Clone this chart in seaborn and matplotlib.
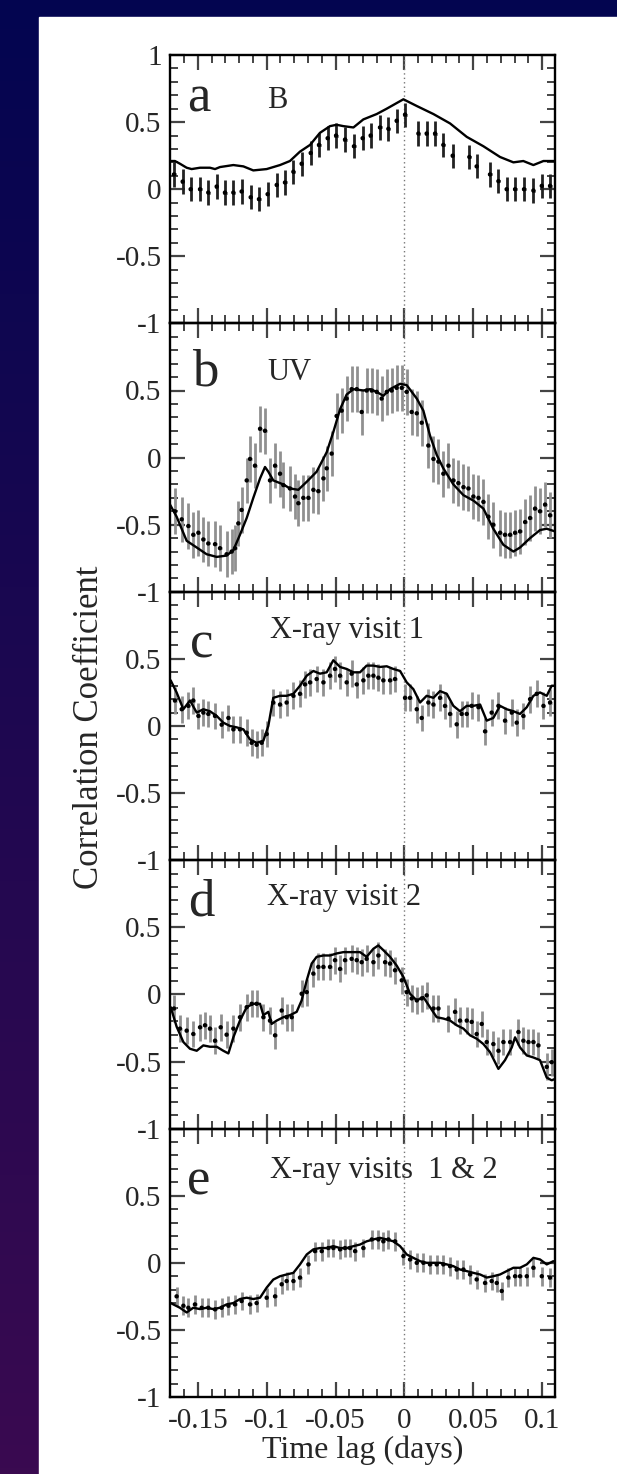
import numpy as np
import pandas as pd
import matplotlib
matplotlib.use("Agg")
import matplotlib.pyplot as plt
from matplotlib.ticker import FixedLocator, MultipleLocator
from matplotlib.patches import Rectangle
import seaborn as sns

# ---------------- data ----------------
panel_letters = ["a", "b", "c", "d", "e"]
panel_titles = ["B", "UV", "X-ray visit 1", "X-ray visit 2", "X-ray visits  1 & 2"]
point_errors = [0.09, 0.17, 0.10, 0.10, 0.07]

a_line_x = [-0.1697, -0.1666, -0.1630, -0.1581, -0.1545, -0.1484, -0.1412, -0.1375, -0.1339, -0.1242, -0.1169, -0.1097, -0.1000, -0.0903, -0.0831, -0.0758, -0.0685, -0.0613, -0.0540, -0.0492, -0.0443, -0.0370, -0.0298, -0.0201, -0.0128, -0.0007, 0.0090, 0.0211, 0.0332, 0.0453, 0.0574, 0.0695, 0.0792, 0.0864, 0.0937, 0.1010, 0.1094]
a_line_y = [0.21, 0.21, 0.19, 0.16, 0.15, 0.16, 0.16, 0.15, 0.165, 0.18, 0.17, 0.14, 0.15, 0.18, 0.21, 0.28, 0.33, 0.42, 0.47, 0.48, 0.47, 0.46, 0.52, 0.56, 0.60, 0.67, 0.62, 0.56, 0.49, 0.39, 0.32, 0.24, 0.20, 0.21, 0.18, 0.21, 0.21]
a_pts_x = [-0.1673, -0.1610, -0.1552, -0.1484, -0.1424, -0.1363, -0.1303, -0.1242, -0.1182, -0.1116, -0.1056, -0.0993, -0.0927, -0.0867, -0.0806, -0.0746, -0.0680, -0.0620, -0.0557, -0.0496, -0.0431, -0.0366, -0.0303, -0.0245, -0.0177, -0.0116, -0.0056, 0.0005, 0.0102, 0.0162, 0.0223, 0.0283, 0.0351, 0.0472, 0.0525, 0.0622, 0.0683, 0.0743, 0.0804, 0.0869, 0.0937, 0.0998, 0.1058]
a_pts_y = [0.11, 0.057, 0.0, 0.0, -0.025, 0.02, -0.025, -0.025, -0.017, -0.06, -0.074, -0.037, 0.032, 0.05, 0.13, 0.19, 0.27, 0.33, 0.38, 0.40, 0.37, 0.32, 0.38, 0.40, 0.46, 0.45, 0.51, 0.556, 0.415, 0.415, 0.415, 0.33, 0.25, 0.24, 0.17, 0.11, 0.06, 0.0, 0.0, 0.0, -0.01, 0.025, 0.025]

b_line_x = [-0.1702, -0.1654, -0.1581, -0.1508, -0.1436, -0.1363, -0.1291, -0.1242, -0.1194, -0.1145, -0.1097, -0.1048, -0.1012, -0.0988, -0.0952, -0.0879, -0.0831, -0.0770, -0.0709, -0.0637, -0.0564, -0.0516, -0.0467, -0.0419, -0.0370, -0.0298, -0.0249, -0.0201, -0.0153, -0.0104, -0.0031, 0.0017, 0.0090, 0.0138, 0.0186, 0.0235, 0.0283, 0.0356, 0.0429, 0.0501, 0.0574, 0.0646, 0.0719, 0.0792, 0.0840, 0.0913, 0.0985, 0.1034, 0.1094]
b_line_y = [-0.35, -0.44, -0.62, -0.67, -0.72, -0.74, -0.73, -0.69, -0.575, -0.45, -0.30, -0.155, -0.07, -0.105, -0.17, -0.20, -0.23, -0.24, -0.18, -0.105, 0.04, 0.19, 0.36, 0.47, 0.51, 0.50, 0.51, 0.49, 0.46, 0.51, 0.55, 0.54, 0.44, 0.35, 0.165, 0.02, -0.08, -0.20, -0.28, -0.32, -0.38, -0.53, -0.65, -0.70, -0.67, -0.60, -0.54, -0.53, -0.55]
b_pts_x = [-0.1666, -0.1617, -0.1569, -0.1533, -0.1496, -0.1460, -0.1424, -0.1375, -0.1339, -0.1291, -0.1254, -0.1230, -0.1206, -0.1182, -0.1145, -0.1121, -0.1085, -0.1048, -0.1012, -0.0976, -0.0939, -0.0903, -0.0879, -0.0831, -0.0794, -0.0770, -0.0734, -0.0697, -0.0661, -0.0625, -0.0588, -0.0564, -0.0528, -0.0492, -0.0455, -0.0419, -0.0383, -0.0346, -0.0310, -0.0274, -0.0237, -0.0201, -0.0165, -0.0128, -0.0092, -0.0056, -0.0019, 0.0017, 0.0053, 0.0090, 0.0126, 0.0174, 0.0211, 0.0247, 0.0283, 0.0320, 0.0356, 0.0392, 0.0429, 0.0465, 0.0501, 0.0538, 0.0574, 0.0610, 0.0646, 0.0695, 0.0731, 0.0768, 0.0804, 0.0840, 0.0877, 0.0913, 0.0949, 0.0985, 0.1022, 0.1058]
b_pts_y = [-0.40, -0.46, -0.51, -0.575, -0.56, -0.61, -0.64, -0.645, -0.675, -0.72, -0.70, -0.675, -0.49, -0.39, -0.17, -0.01, -0.06, 0.215, 0.20, -0.17, -0.06, -0.12, -0.205, -0.23, -0.29, -0.34, -0.30, -0.30, -0.24, -0.25, -0.155, -0.08, 0.03, 0.31, 0.35, 0.44, 0.51, 0.51, 0.34, 0.50, 0.50, 0.49, 0.44, 0.49, 0.50, 0.52, 0.52, 0.49, 0.34, 0.33, 0.26, 0.09, -0.01, -0.03, -0.12, -0.06, -0.17, -0.19, -0.22, -0.23, -0.29, -0.30, -0.33, -0.44, -0.50, -0.56, -0.575, -0.575, -0.56, -0.55, -0.48, -0.45, -0.38, -0.40, -0.35, -0.43]

c_line_x = [-0.1697, -0.1654, -0.1605, -0.1557, -0.1508, -0.1460, -0.1412, -0.1363, -0.1315, -0.1266, -0.1218, -0.1169, -0.1121, -0.1073, -0.1024, -0.0988, -0.0952, -0.0903, -0.0855, -0.0806, -0.0758, -0.0709, -0.0661, -0.0613, -0.0564, -0.0516, -0.0467, -0.0419, -0.0370, -0.0322, -0.0274, -0.0225, -0.0177, -0.0128, -0.0080, -0.0031, 0.0017, 0.0065, 0.0114, 0.0162, 0.0211, 0.0259, 0.0308, 0.0356, 0.0404, 0.0453, 0.0501, 0.0550, 0.0598, 0.0646, 0.0695, 0.0743, 0.0792, 0.0840, 0.0889, 0.0937, 0.0985, 0.1034, 0.1070, 0.1094]
c_line_y = [0.34, 0.25, 0.125, 0.19, 0.10, 0.125, 0.11, 0.075, 0.025, 0.0, -0.01, -0.025, -0.10, -0.125, -0.11, 0.0, 0.21, 0.225, 0.225, 0.24, 0.30, 0.375, 0.41, 0.39, 0.40, 0.49, 0.44, 0.425, 0.40, 0.40, 0.45, 0.45, 0.44, 0.445, 0.425, 0.41, 0.325, 0.275, 0.175, 0.225, 0.21, 0.26, 0.24, 0.15, 0.11, 0.15, 0.15, 0.16, 0.04, 0.06, 0.15, 0.125, 0.11, 0.09, 0.14, 0.225, 0.25, 0.225, 0.30, 0.30]
c_pts_x = [-0.1666, -0.1617, -0.1569, -0.1533, -0.1496, -0.1460, -0.1424, -0.1375, -0.1327, -0.1278, -0.1242, -0.1194, -0.1145, -0.1109, -0.1073, -0.1036, -0.1000, -0.0952, -0.0903, -0.0855, -0.0806, -0.0758, -0.0722, -0.0685, -0.0637, -0.0588, -0.0540, -0.0504, -0.0467, -0.0419, -0.0383, -0.0346, -0.0298, -0.0262, -0.0225, -0.0189, -0.0153, -0.0104, -0.0068, 0.0005, 0.0041, 0.0090, 0.0126, 0.0174, 0.0211, 0.0259, 0.0295, 0.0332, 0.0380, 0.0416, 0.0453, 0.0489, 0.0538, 0.0586, 0.0634, 0.0683, 0.0731, 0.0780, 0.0816, 0.0864, 0.0913, 0.0961, 0.1010, 0.1058]
c_pts_y = [0.19, 0.125, 0.15, 0.19, 0.075, 0.10, 0.09, 0.075, 0.01, 0.06, -0.025, -0.025, -0.05, -0.125, -0.14, -0.125, -0.06, 0.175, 0.16, 0.175, 0.225, 0.24, 0.31, 0.325, 0.35, 0.325, 0.375, 0.425, 0.375, 0.325, 0.39, 0.31, 0.34, 0.375, 0.375, 0.36, 0.34, 0.34, 0.35, 0.21, 0.21, 0.125, 0.06, 0.175, 0.16, 0.21, 0.15, 0.09, 0.0125, 0.09, 0.09, 0.15, 0.14, -0.04, 0.10, 0.15, 0.04, 0.10, 0.025, 0.075, 0.20, 0.24, 0.15, 0.175]

d_line_x = [-0.1697, -0.1654, -0.1605, -0.1557, -0.1508, -0.1460, -0.1412, -0.1363, -0.1315, -0.1278, -0.1242, -0.1194, -0.1145, -0.1097, -0.1048, -0.1024, -0.0988, -0.0964, -0.0927, -0.0879, -0.0831, -0.0782, -0.0746, -0.0709, -0.0673, -0.0637, -0.0588, -0.0540, -0.0492, -0.0443, -0.0370, -0.0322, -0.0274, -0.0225, -0.0189, -0.0153, -0.0104, -0.0056, -0.0007, 0.0041, 0.0090, 0.0138, 0.0186, 0.0235, 0.0283, 0.0332, 0.0380, 0.0429, 0.0477, 0.0525, 0.0574, 0.0622, 0.0683, 0.0731, 0.0780, 0.0804, 0.0840, 0.0889, 0.0937, 0.0985, 0.1034, 0.1070, 0.1094]
d_line_y = [-0.095, -0.24, -0.355, -0.405, -0.42, -0.38, -0.39, -0.39, -0.42, -0.44, -0.32, -0.195, -0.095, -0.07, -0.07, -0.155, -0.13, -0.22, -0.195, -0.17, -0.155, -0.13, -0.045, 0.105, 0.23, 0.28, 0.29, 0.29, 0.305, 0.315, 0.315, 0.315, 0.28, 0.34, 0.365, 0.33, 0.28, 0.215, 0.13, 0.005, -0.045, -0.02, -0.095, -0.17, -0.18, -0.195, -0.23, -0.255, -0.305, -0.33, -0.37, -0.43, -0.555, -0.49, -0.395, -0.32, -0.395, -0.455, -0.47, -0.49, -0.62, -0.64, -0.63]
d_pts_x = [-0.1673, -0.1630, -0.1581, -0.1533, -0.1484, -0.1448, -0.1412, -0.1375, -0.1334, -0.1291, -0.1242, -0.1194, -0.1145, -0.1109, -0.1073, -0.1024, -0.0976, -0.0939, -0.0891, -0.0855, -0.0818, -0.0746, -0.0709, -0.0661, -0.0625, -0.0588, -0.0540, -0.0504, -0.0467, -0.0431, -0.0383, -0.0346, -0.0310, -0.0274, -0.0225, -0.0189, -0.0140, -0.0104, -0.0068, -0.0019, 0.0017, 0.0053, 0.0090, 0.0126, 0.0162, 0.0211, 0.0247, 0.0320, 0.0368, 0.0404, 0.0453, 0.0489, 0.0525, 0.0562, 0.0598, 0.0646, 0.0683, 0.0719, 0.0768, 0.0828, 0.0864, 0.0901, 0.0937, 0.0973, 0.1034, 0.1070]
d_pts_y = [-0.105, -0.255, -0.27, -0.295, -0.245, -0.23, -0.255, -0.345, -0.245, -0.30, -0.255, -0.17, -0.095, -0.07, -0.07, -0.17, -0.195, -0.305, -0.12, -0.17, -0.17, 0.005, 0.017, 0.155, 0.205, 0.205, 0.205, 0.255, 0.19, 0.255, 0.265, 0.255, 0.24, 0.265, 0.24, 0.29, 0.24, 0.23, 0.18, 0.105, 0.017, -0.03, -0.045, -0.03, -0.007, -0.105, -0.105, -0.18, -0.13, -0.195, -0.195, -0.205, -0.295, -0.22, -0.355, -0.37, -0.42, -0.355, -0.355, -0.28, -0.345, -0.355, -0.355, -0.38, -0.54, -0.505]

e_line_x = [-0.1697, -0.1630, -0.1581, -0.1533, -0.1484, -0.1436, -0.1387, -0.1339, -0.1291, -0.1242, -0.1194, -0.1145, -0.1097, -0.1048, -0.1000, -0.0952, -0.0903, -0.0855, -0.0806, -0.0758, -0.0709, -0.0661, -0.0613, -0.0564, -0.0516, -0.0467, -0.0419, -0.0370, -0.0322, -0.0274, -0.0225, -0.0177, -0.0128, -0.0080, -0.0031, 0.0017, 0.0065, 0.0114, 0.0162, 0.0211, 0.0259, 0.0308, 0.0356, 0.0404, 0.0453, 0.0501, 0.0550, 0.0598, 0.0646, 0.0695, 0.0743, 0.0792, 0.0840, 0.0889, 0.0937, 0.0985, 0.1034, 0.1082]
e_line_y = [-0.30, -0.335, -0.37, -0.335, -0.345, -0.335, -0.345, -0.335, -0.31, -0.30, -0.27, -0.26, -0.27, -0.26, -0.185, -0.125, -0.10, -0.087, -0.075, -0.012, 0.062, 0.10, 0.11, 0.11, 0.124, 0.11, 0.11, 0.124, 0.136, 0.16, 0.174, 0.186, 0.174, 0.16, 0.124, 0.062, 0.037, 0.012, 0.0, 0.0, 0.0, -0.012, -0.025, -0.05, -0.062, -0.075, -0.087, -0.11, -0.10, -0.087, -0.062, -0.037, -0.037, -0.012, 0.037, 0.025, -0.012, 0.012]
e_pts_x = [-0.1654, -0.1605, -0.1569, -0.1521, -0.1472, -0.1424, -0.1375, -0.1327, -0.1278, -0.1230, -0.1182, -0.1121, -0.1073, -0.1000, -0.0939, -0.0891, -0.0855, -0.0806, -0.0758, -0.0697, -0.0649, -0.0600, -0.0552, -0.0516, -0.0467, -0.0431, -0.0395, -0.0358, -0.0298, -0.0237, -0.0189, -0.0153, -0.0116, -0.0068, -0.0007, 0.0041, 0.0090, 0.0138, 0.0186, 0.0235, 0.0283, 0.0332, 0.0380, 0.0429, 0.0477, 0.0525, 0.0586, 0.0634, 0.0671, 0.0707, 0.0755, 0.0804, 0.0840, 0.0889, 0.0937, 0.0998, 0.1058]
e_pts_y = [-0.25, -0.32, -0.335, -0.31, -0.335, -0.335, -0.347, -0.335, -0.32, -0.31, -0.285, -0.31, -0.30, -0.26, -0.25, -0.16, -0.136, -0.136, -0.11, -0.012, 0.087, 0.087, 0.11, 0.11, 0.10, 0.11, 0.11, 0.087, 0.11, 0.174, 0.174, 0.16, 0.174, 0.16, 0.05, 0.025, 0.0, 0.0, -0.012, -0.012, -0.012, -0.025, -0.05, -0.05, -0.087, -0.124, -0.15, -0.136, -0.15, -0.21, -0.11, -0.10, -0.10, -0.10, -0.037, -0.10, -0.11]

x_ticks = [-0.15, -0.1, -0.05, 0, 0.05, 0.1]
x_tick_labels = ["-0.15", "-0.1", "-0.05", "0", "0.05", "0.1"]
y_ticks = [-1, -0.5, 0, 0.5, 1]
y_tick_labels = ["-1", "-0.5", "0", "0.5", "1"]

lines_x = [a_line_x, b_line_x, c_line_x, d_line_x, e_line_x]
lines_y = [a_line_y, b_line_y, c_line_y, d_line_y, e_line_y]
pts_x = [a_pts_x, b_pts_x, c_pts_x, d_pts_x, e_pts_x]
pts_y = [a_pts_y, b_pts_y, c_pts_y, d_pts_y, e_pts_y]

# ---------------- style ----------------
sns.set_theme(style="ticks")
plt.rcParams["font.family"] = ["Liberation Serif", "DejaVu Serif"]
plt.rcParams["axes.unicode_minus"] = False

W, H = 617, 1474
fig = plt.figure(figsize=(W / 100, H / 100), dpi=100)

# background gradient + white sheet
bg = fig.add_axes([0, 0, 1, 1], zorder=-10)
grad = np.linspace(0, 1, 256)[:, None]
top_c = np.array([3, 5, 80]) / 255.0
bot_c = np.array([58, 10, 80]) / 255.0
img = top_c[None, None, :] * (1 - grad[:, :, None]) + bot_c[None, None, :] * grad[:, :, None]
bg.imshow(img, aspect="auto", extent=[0, 1, 0, 1], origin="upper")
bg.add_patch(Rectangle((39 / W, 0), 1, 1 - 17 / H, color="white", transform=bg.transAxes))
bg.set_xlim(0, 1); bg.set_ylim(0, 1)
bg.axis("off")

left, right = 170 / W, 555 / W
top, bottom = 1 - 55 / H, 1 - 1397 / H
axes = fig.subplots(5, 1, sharex=True)
fig.subplots_adjust(left=left, right=right, top=top, bottom=bottom, hspace=0)

letter_pos = [(0.044, 0.791), (0.057, 0.770), (0.052, 0.757), (0.047, 0.795), (0.044, 0.753)]
title_pos = [(0.252, 0.803), (0.252, 0.789), (0.260, 0.828), (0.252, 0.832), (0.260, 0.815)]
err_colors = ["#222222", "#909090", "#909090", "#909090", "#909090"]

for i, ax in enumerate(axes):
    ax.set_facecolor("none")
    dfl = pd.DataFrame({"lag": lines_x[i], "r": lines_y[i]})
    dfp = pd.DataFrame({"lag": pts_x[i], "r": pts_y[i]})
    ax.axvline(0, color="#777777", lw=1.0, ls=(0, (1, 2.2)), zorder=1)
    ax.errorbar(dfp["lag"], dfp["r"], yerr=point_errors[i], xerr=0.0012,
                fmt="none", ecolor=err_colors[i], elinewidth=2.0, capsize=0, zorder=2)
    sns.scatterplot(data=dfp, x="lag", y="r", ax=ax, s=10, color="black",
                    edgecolor="none", zorder=4, legend=False)
    sns.lineplot(data=dfl, x="lag", y="r", ax=ax, color="black", lw=1.7,
                 zorder=3, legend=False, sort=False)
    ax.set_xlim(-0.1702, 0.1094)
    ax.set_ylim(-1, 1)
    ax.set_xlabel("")
    ax.set_ylabel("")
    ax.xaxis.set_major_locator(FixedLocator(x_ticks))
    ax.xaxis.set_minor_locator(MultipleLocator(0.01))
    ax.yaxis.set_major_locator(FixedLocator(y_ticks))
    ax.yaxis.set_minor_locator(MultipleLocator(0.1))
    labels = list(y_tick_labels) if i == 0 else y_tick_labels[:-1] + [""]
    ax.set_yticklabels(labels)
    ax.tick_params(which="major", direction="in", top=True, right=True,
                   length=11, width=1.6, color="#444444", labelsize=21, pad=6)
    ax.tick_params(which="minor", direction="in", top=True, right=True,
                   length=5.5, width=1.4, color="#444444")
    for sp in ax.spines.values():
        sp.set_linewidth(1.7)
        sp.set_color("black")
        sp.set_visible(True)
    ax.text(letter_pos[i][0], letter_pos[i][1], panel_letters[i], transform=ax.transAxes,
            fontsize=38, va="baseline", ha="left")
    ax.text(title_pos[i][0], title_pos[i][1], panel_titles[i], transform=ax.transAxes,
            fontsize=22, va="baseline", ha="left")

axes[-1].set_xticklabels(x_tick_labels)
axes[-1].tick_params(axis="x", which="major", pad=8)
axes[-1].set_xlabel("Time lag (days)", fontsize=23, labelpad=1)
fig.text(90 / W, 1 - 727 / H, "Correlation Coefficient", rotation=90,
         fontsize=25, ha="center", va="center")

fig.savefig("out.png", dpi=100)
